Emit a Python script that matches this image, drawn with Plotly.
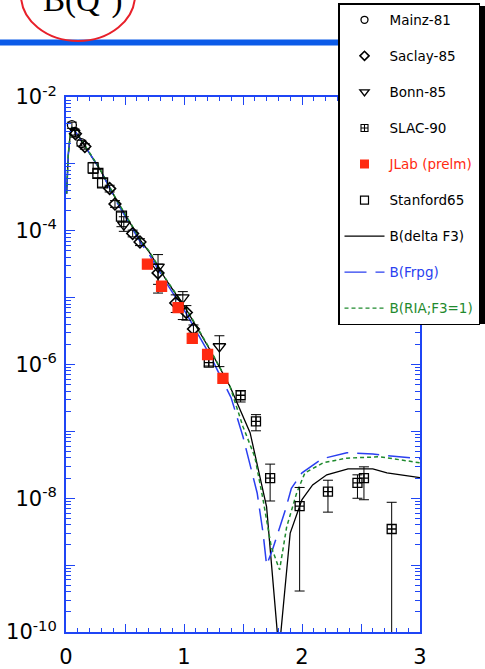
import plotly.graph_objects as go

# ---------------- data ----------------
mainz_x = [0.05, 0.075, 0.13]
mainz_y = [3.8e-3, 3.0e-3, 2.04e-3]
mainz_hi = [4.2e-3, 3.3e-3, 2.25e-3]
mainz_lo = [3.4e-3, 2.7e-3, 1.85e-3]

saclay_x = [0.08, 0.16, 0.37, 0.415, 0.565, 0.627, 0.78, 0.93, 1.02, 1.08]
saclay_y = [2.82e-3, 1.82e-3, 4.27e-4, 2.51e-4, 9.1e-5, 6.8e-5, 2.34e-5, 8.3e-6, 6.0e-6, 3.4e-6]
saclay_hi = [3.16e-3, 2.0e-3, 4.79e-4, 2.82e-4, 1.02e-4, 7.6e-5, 3.16e-5, 1.10e-5, 7.6e-6, 3.9e-6]
saclay_lo = [2.51e-3, 1.66e-3, 3.8e-4, 2.24e-4, 8.1e-5, 6.0e-5, 1.58e-5, 6.0e-6, 4.6e-6, 2.95e-6]

bonn_x = [0.49, 0.78, 0.99, 1.30]
bonn_y = [1.23e-4, 2.88e-5, 1.0e-5, 1.86e-6]
bonn_hi = [1.62e-4, 4.4e-5, 1.23e-5, 2.69e-6]
bonn_lo = [9.8e-5, 1.17e-5, 4.7e-6, 9.3e-7]

slac_x = [1.21, 1.48, 1.61, 1.73, 1.98, 2.22, 2.47, 2.525, 2.76]
slac_y = [1.07e-6, 3.47e-7, 1.41e-7, 2.0e-8, 7.6e-9, 1.26e-8, 1.70e-8, 2.0e-8, 3.47e-9]
slac_hi = [1.2e-6, 4.07e-7, 1.78e-7, 3.24e-8, 1.45e-8, 1.86e-8, 2.24e-8, 2.95e-8, 8.7e-9]
slac_lo = [9.5e-7, 2.75e-7, 1.02e-7, 9.1e-9, 4.1e-10, 6.2e-9, 1.0e-8, 9.5e-9, 1e-12]

jlab_x = [0.69, 0.81, 0.95, 1.07, 1.20, 1.33]
jlab_y = [3.16e-5, 1.48e-5, 7.1e-6, 2.45e-6, 1.41e-6, 6.2e-7]

stan_x = [0.23, 0.27, 0.31, 0.47]
stan_y = [8.7e-4, 7.2e-4, 5.2e-4, 1.65e-4]
stan_hi = [1.05e-3, 8.3e-4, 6.0e-4, 1.9e-4]
stan_lo = [7.2e-4, 6.2e-4, 4.5e-4, 1.15e-4]

f3_x = [0.005, 0.01, 0.02, 0.035, 0.05, 0.1, 0.16, 0.29, 0.43, 0.63, 0.71, 0.85, 1.02,
        1.136, 1.22, 1.39, 1.56, 1.70, 1.805, 1.90, 2.0, 2.09, 2.21, 2.39, 2.6, 2.72, 3.0]
f3_y = [3.55e-4, 7.08e-4, 1.41e-3, 2.63e-3, 3.55e-3, 2.69e-3, 1.82e-3, 8.13e-4, 2.82e-4,
        7.24e-5, 4.68e-5, 1.82e-5, 6.61e-6, 2.95e-6, 1.66e-6, 4.68e-7, 9.55e-8, 7.41e-9,
        5.0e-11, 3.02e-9, 9.55e-9, 1.585e-8, 2.24e-8, 2.75e-8, 2.75e-8, 2.40e-8, 2.04e-8]

frpg_x = [0.005, 0.01, 0.02, 0.035, 0.05, 0.1, 0.16, 0.29, 0.43, 0.63, 0.71, 0.85, 1.02,
          1.136, 1.22, 1.40, 1.50, 1.62, 1.67, 1.70, 1.75, 1.86, 1.91, 2.0, 2.17, 2.38, 2.6, 3.0]
frpg_y = [3.55e-4, 7.08e-4, 1.41e-3, 2.63e-3, 3.55e-3, 2.69e-3, 1.82e-3, 8.13e-4, 2.69e-4,
          6.76e-5, 4.27e-5, 1.66e-5, 5.75e-6, 2.51e-6, 1.38e-6, 3.16e-7, 8.32e-8, 1.20e-8,
          3.02e-9, 1.0e-9, 1.70e-9, 6.76e-9, 1.41e-8, 2.40e-8, 3.89e-8, 4.79e-8, 4.57e-8, 3.89e-8]

ria_x = [0.005, 0.01, 0.02, 0.035, 0.05, 0.1, 0.16, 0.29, 0.43, 0.63, 0.71, 0.85, 1.02,
         1.136, 1.22, 1.39, 1.50, 1.60, 1.67, 1.74, 1.81, 1.87, 1.955, 2.025, 2.18, 2.38, 2.66, 3.0]
ria_y = [3.6e-4, 7.2e-4, 1.45e-3, 2.7e-3, 3.6e-3, 2.75e-3, 1.86e-3, 8.3e-4, 2.88e-4,
         7.4e-5, 4.8e-5, 1.86e-5, 6.8e-6, 3.0e-6, 1.7e-6, 4.68e-7, 1.175e-7, 4.17e-8,
         9.55e-9, 1.86e-9, 8.51e-10, 3.72e-9, 1.20e-8, 2.40e-8, 3.39e-8, 3.98e-8, 4.17e-8, 3.39e-8]

x_labels = [0, 1, 2, 3]
x_halfticks = [0.5, 1.5, 2.5]
y_label_exps = [-10, -8, -6, -4, -2]
y_odd_exps = [-9, -7, -5, -3]

# ---------------- figure ----------------
W, H = 485, 669
L, R, T, B = 66, 65, 97, 37
PW, PH = W - L - R, H - T - B
AX = '#1f45f5'
RED = '#ff2a10'
BLUE = '#2a3ff0'
GREEN = '#1f8a2e'


def px_x(p):
    return (p - L) / PW


def px_y(p):
    return (H - B - p) / PH


def errs(y, hi, lo):
    return ([h - v for h, v in zip(hi, y)], [v - l for v, l in zip(y, lo)])


fig = go.Figure()
eb = dict(type='data', color='black', thickness=1, width=5)

# theory curves
fig.add_trace(go.Scatter(x=f3_x, y=f3_y, mode='lines', showlegend=False,
                         line=dict(color='black', width=1.3)))
fig.add_trace(go.Scatter(x=frpg_x, y=frpg_y, mode='lines', showlegend=False,
                         line=dict(color=BLUE, width=1.5, dash='22px,9px')))
fig.add_trace(go.Scatter(x=ria_x, y=ria_y, mode='lines', showlegend=False,
                         line=dict(color=GREEN, width=1.5, dash='4px,3px')))


def add_pts(x, y, hi, lo, sym, size, color='black', lw=1.3):
    kw = {}
    if hi is not None:
        p, m = errs(y, hi, lo)
        kw['error_y'] = dict(array=p, arrayminus=m, symmetric=False, **eb)
    fig.add_trace(go.Scatter(x=x, y=y, mode='markers', showlegend=False,
                             marker=dict(symbol=sym, size=size, color=color,
                                         line=dict(color=color, width=lw)), **kw))


add_pts(mainz_x, mainz_y, mainz_hi, mainz_lo, 'circle-open', 9)
add_pts(saclay_x, saclay_y, saclay_hi, saclay_lo, 'diamond-open', 9, lw=1.6)
add_pts(bonn_x, bonn_y, bonn_hi, bonn_lo, 'triangle-down-open', 11)
add_pts(slac_x, slac_y, slac_hi, slac_lo, 'square-cross-open', 9)
add_pts(jlab_x, jlab_y, None, None, 'square', 10, color=RED)
add_pts(stan_x, stan_y, stan_hi, stan_lo, 'square-open', 10)

# legend entries
leg = [
    ('Mainz-81', dict(mode='markers', marker=dict(symbol='circle-open', size=7, color='black', line=dict(width=1.3)))),
    ('Saclay-85', dict(mode='markers', marker=dict(symbol='diamond-open', size=7, color='black', line=dict(width=1.6)))),
    ('Bonn-85', dict(mode='markers', marker=dict(symbol='triangle-down-open', size=8, color='black', line=dict(width=1.4)))),
    ('SLAC-90', dict(mode='markers', marker=dict(symbol='square-cross-open', size=7, color='black', line=dict(width=1.1)))),
    ("<span style='color:%s'>JLab (prelm)</span>" % RED, dict(mode='markers', marker=dict(symbol='square', size=9, color=RED))),
    ('Stanford65', dict(mode='markers', marker=dict(symbol='square-open', size=8, color='black', line=dict(width=1.2)))),
    ('B(delta F3)', dict(mode='lines', line=dict(color='black', width=1.2))),
    ("<span style='color:%s'>B(Frpg)</span>" % BLUE, dict(mode='lines', line=dict(color=BLUE, width=1.3, dash='22px,9px'))),
    ("<span style='color:%s'>B(RIA;F3=1)</span>" % GREEN, dict(mode='lines', line=dict(color=GREEN, width=1.3, dash='4px,3px'))),
]
for i, (nm, kw) in enumerate(leg):
    fig.add_trace(go.Scatter(x=[None], y=[None], name=nm, legendgroup='g%d' % i,
                             legendrank=i + 1, showlegend=True, **kw))

# helper axes for extra (unlabelled) long ticks
fig.add_trace(go.Scatter(x=[None], y=[None], xaxis='x2', yaxis='y2', showlegend=False))

minor_y = [m * 10.0 ** e for e in range(-10, -2) for m in range(2, 10)]

common = dict(ticks='inside', tickwidth=1.3, tickcolor=AX, showline=True, linecolor=AX,
              linewidth=2, mirror='ticks', showgrid=False, zeroline=False)

fig.update_layout(
    width=W, height=H,
    margin=dict(l=L, r=R, t=T, b=B, autoexpand=False),
    paper_bgcolor='white', plot_bgcolor='white',
    font=dict(family='DejaVu Sans', color='black'),
    showlegend=True,
    legend=dict(x=px_x(338), y=px_y(3), xanchor='left', yanchor='top',
                bgcolor='white', bordercolor='black', borderwidth=1.5,
                font=dict(family='DejaVu Sans', size=13.5, color='black'),
                traceorder='grouped', tracegroupgap=15.5, itemwidth=40),
    xaxis=dict(range=[0, 3], tickmode='array', tickvals=x_labels,
               ticktext=[str(v) for v in x_labels], ticklen=8,
               minor=dict(dtick=0.1, tick0=0, ticks='inside', ticklen=4, tickwidth=1.2, tickcolor=AX),
               tickfont=dict(size=21, family='DejaVu Sans'), ticklabelstandoff=5, **common),
    yaxis=dict(type='log', range=[-10, -2], tickmode='array',
               tickvals=[10.0 ** e for e in y_label_exps],
               ticktext=['10<sup>%d</sup>' % e for e in y_label_exps], ticklen=9,
               minor=dict(tickmode='array', tickvals=minor_y, ticks='inside', ticklen=5,
                          tickwidth=1.2, tickcolor=AX),
               tickfont=dict(size=21, family='DejaVu Sans'), ticklabelstandoff=3, **common),
    xaxis2=dict(overlaying='x', anchor='y2', range=[0, 3], tickmode='array', tickvals=x_halfticks,
                ticklen=8, showticklabels=False, **common),
    yaxis2=dict(overlaying='y', anchor='x2', type='log', range=[-10, -2], tickmode='array',
                tickvals=[10.0 ** e for e in y_odd_exps], ticklen=9, showticklabels=False, **common),
    shapes=[
        dict(type='line', xref='paper', yref='paper', x0=px_x(0), x1=px_x(485),
             y0=px_y(42.5), y1=px_y(42.5), line=dict(color='#0b5be8', width=6), layer='above'),
        dict(type='circle', xref='paper', yref='paper', x0=px_x(21), x1=px_x(135),
             y0=px_y(41), y1=px_y(-51), line=dict(color='#e8202a', width=2), layer='above'),
        dict(type='rect', xref='paper', yref='paper', x0=px_x(342), x1=px_x(485),
             y0=px_y(324), y1=px_y(6), fillcolor='black', line=dict(width=0), layer='above'),
    ],
    annotations=[
        dict(text='B(Q<sup>2</sup>)', xref='paper', yref='paper', x=px_x(82), y=px_y(21),
             xanchor='center', yanchor='bottom', showarrow=False,
             font=dict(family='Liberation Serif', size=33, color='black')),
    ],
)

fig.write_html('out.html')
